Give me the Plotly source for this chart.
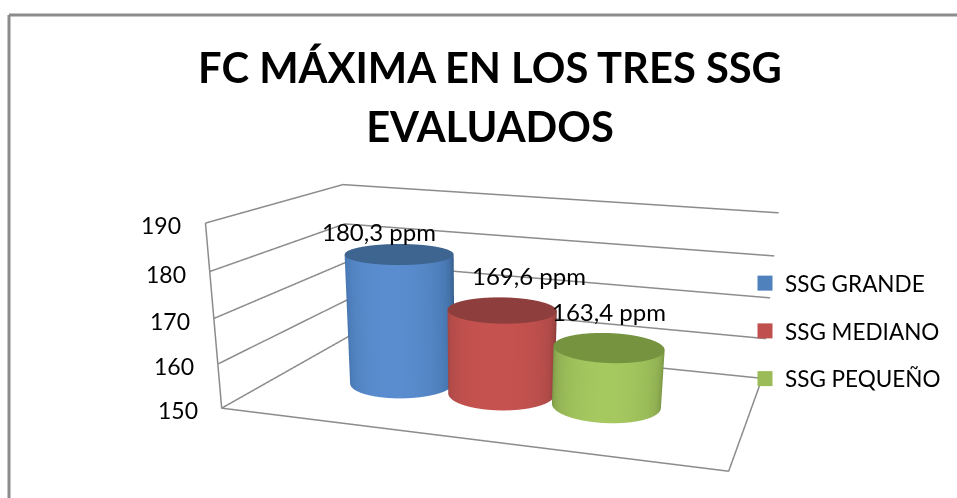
import numpy as np
import plotly.graph_objects as go

# Chart data
categories = ["SSG GRANDE", "SSG MEDIANO", "SSG PEQUEÑO"]
values = [180.3, 169.6, 163.4]
z_ticks = [150, 160, 170, 180, 190]
title_lines = ["FC MÁXIMA EN LOS TRES SSG", "EVALUADOS"]

# Cylinder placement on the floor of the plot box
x_centres = [0.267, 0.490, 0.715]
y_centres = [0.281, 0.281, 0.281]
radius = 0.111

# Colours: silhouette edge, body mid, body highlight, top cap, legend swatch
edge_colours = ["#355c8a", "#7b3735", "#66803a"]
mid_colours = ["#4a7ab5", "#b04b48", "#8fae52"]
light_colours = ["#5a8dcf", "#c6524f", "#a5c85f"]
cap_colours = ["#3e6490", "#8e3f3d", "#76933f"]
legend_colours = ["#4f81bd", "#c0504d", "#9bbb59"]

W, H = 957, 918
x_limits = [0.0, 1.0]
y_limits = [0.0, 0.581]
z_limits = [150, 190]
# The axes extend a little past the frame so that frame lines are not clipped
x_pad, y_pad, z_pad = 0.005, 0.005, 0.5
frame_colour = "#8c8c8c"
font = "Lato, Carlito, sans-serif"


def px(x):
    return x / W


def py(y):
    return 1 - y / H


fig = go.Figure()

theta = np.linspace(0, 2 * np.pi, 145)
view_angle = np.deg2rad(-78)
shade = np.clip(np.cos(theta - view_angle), 0, 1) ** 0.7
flat_light = dict(ambient=1, diffuse=0, specular=0, roughness=1, fresnel=0)

for i, name in enumerate(categories):
    cx, cy, top = x_centres[i], y_centres[i], values[i]
    # Cylinder wall
    fig.add_trace(go.Surface(
        x=np.array([cx + radius * np.cos(theta)] * 2),
        y=np.array([cy + radius * np.sin(theta)] * 2),
        z=np.array([[z_limits[0]] * theta.size, [top] * theta.size]),
        surfacecolor=np.array([shade, shade]),
        cmin=0, cmax=1, showscale=False,
        colorscale=[[0, edge_colours[i]], [0.55, mid_colours[i]], [1, light_colours[i]]],
        lighting=flat_light, hoverinfo="skip", showlegend=False,
    ))
    # Top cap
    rr = np.array([0.0, radius])
    fig.add_trace(go.Surface(
        x=cx + np.outer(rr, np.cos(theta)),
        y=cy + np.outer(rr, np.sin(theta)),
        z=np.full((2, theta.size), top),
        surfacecolor=np.zeros((2, theta.size)),
        cmin=0, cmax=1, showscale=False,
        colorscale=[[0, cap_colours[i]], [1, cap_colours[i]]],
        lighting=flat_light, hoverinfo="skip", showlegend=False,
    ))
    # Legend entry
    fig.add_trace(go.Scatter3d(
        x=[None], y=[None], z=[None], mode="markers", name=name,
        legendgroup=name,
        marker=dict(symbol="square", size=15, color=legend_colours[i]),
        hoverinfo="skip",
    ))

# Horizontal grid lines running along the side wall and the back wall
grid_x, grid_y, grid_z = [], [], []
for tick in z_ticks:
    grid_x += [x_limits[0], x_limits[0], x_limits[1], None]
    grid_y += [y_limits[0], y_limits[1], y_limits[1], None]
    grid_z += [tick, tick, tick, None]
fig.add_trace(go.Scatter3d(
    x=grid_x, y=grid_y, z=grid_z, mode="lines",
    line=dict(color=frame_colour, width=3), hoverinfo="skip", showlegend=False,
))

# Floor edges and the front vertical of the side wall
fig.add_trace(go.Scatter3d(
    x=[x_limits[0], x_limits[0], x_limits[1], x_limits[1]],
    y=[y_limits[0], y_limits[0], y_limits[0], y_limits[1]],
    z=[z_limits[1], z_limits[0], z_limits[0], z_limits[0]],
    mode="lines", line=dict(color=frame_colour, width=3),
    hoverinfo="skip", showlegend=False,
))

hidden_axis = dict(visible=False, showgrid=False, zeroline=False, showbackground=False,
                   showspikes=False, showticklabels=False, title="")

value_labels = [
    dict(x=x_centres[i], y=y_centres[i], z=values[i],
         text=f"{values[i]:.1f}".replace(".", ",") + " ppm",
         showarrow=False, font=dict(family=font, size=24, color="#000000"),
         xanchor="center", yanchor="middle", xshift=shift[0], yshift=shift[1])
    for i, shift in enumerate([(-20, 23), (27, 34), (0, 36)])
]
tick_labels = [
    dict(x=x_limits[0], y=y_limits[0], z=t, text=str(t), showarrow=False,
         font=dict(family=font, size=23, color="#000000"),
         xanchor="right", yanchor="middle", xshift=-22, yshift=-2)
    for t in z_ticks
]

fig.update_layout(
    width=W, height=H,
    margin=dict(l=0, r=0, t=0, b=0),
    paper_bgcolor="white",
    title=dict(
        text="<span style='font-size:41.7px'>" + "<br>".join(title_lines) + "</span>",
        font=dict(family=font, size=45.5, color="#000000", weight="bold"),
        x=px(490), xanchor="center", xref="paper",
        y=py(83), yanchor="top", yref="paper",
        automargin=False,
    ),
    scene=dict(
        domain=dict(x=[px(123), 1], y=[0, 1]),
        dragmode="orbit",
        aspectmode="manual",
        aspectratio=dict(x=1 + 2 * x_pad, y=0.581 + 2 * y_pad, z=0.363 * (1 + 2 * z_pad / 40)),
        camera=dict(
            eye=dict(x=0.672, y=-2.112, z=0.539),
            center=dict(x=0.0945, y=-0.071, z=-0.293),
            up=dict(x=-0.021, y=-0.006, z=1),
        ),
        xaxis=dict(range=[x_limits[0] - x_pad, x_limits[1] + x_pad], **hidden_axis),
        yaxis=dict(range=[y_limits[0] - y_pad, y_limits[1] + y_pad], **hidden_axis),
        zaxis=dict(range=[z_limits[0] - z_pad, z_limits[1] + z_pad], **hidden_axis),
        annotations=value_labels + tick_labels,
        bgcolor="rgba(0,0,0,0)",
    ),
    showlegend=True,
    legend=dict(
        x=px(745), xanchor="left", y=py(262), yanchor="top",
        font=dict(family=font, size=22.5, color="#000000"),
        tracegroupgap=15.5, itemclick=False, itemdoubleclick=False,
        bgcolor="rgba(0,0,0,0)",
    ),
    shapes=[
        dict(type="line", xref="paper", yref="paper", x0=px(9), x1=1, y0=py(15), y1=py(15),
             line=dict(color=frame_colour, width=3)),
        dict(type="line", xref="paper", yref="paper", x0=px(9), x1=px(9), y0=py(15), y1=0,
             line=dict(color=frame_colour, width=3)),
    ],
)

fig.write_html("out.html", config=dict(displayModeBar=False),
               post_script="document.documentElement.style.overflow='hidden';document.body.style.overflow='hidden';")
